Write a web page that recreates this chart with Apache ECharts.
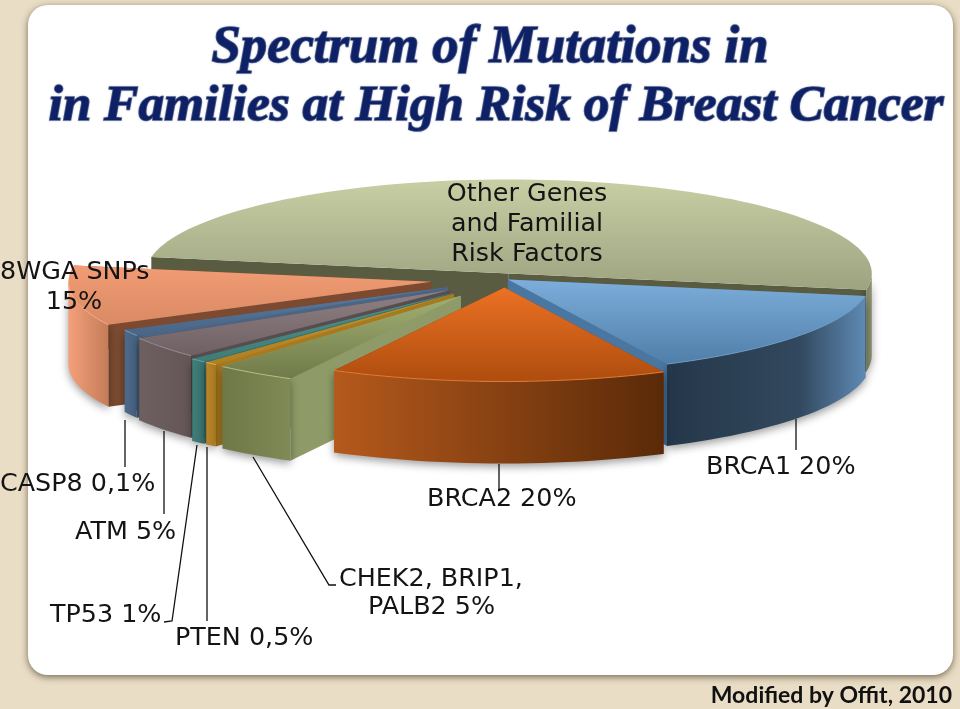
<!DOCTYPE html>
<html><head><meta charset="utf-8">
<style>html,body{margin:0;padding:0;background:#E9DDC6}#c{width:960px;height:709px}</style>
<script src="https://cdn.jsdelivr.net/npm/echarts@6/dist/echarts.min.js"></script>
</head><body><div id="c"></div>
<script>
// Slices in pie order (clockwise from the right edge of the big slice)
const sliceNames = ['Other Genes and Familial Risk Factors','BRCA1','BRCA2','CHEK2, BRIP1, PALB2','PTEN','TP53','ATM','CASP8','8WGA SNPs'];
// Share of the drawn pie (the printed percentages differ)
const sliceShares = [50,15,15,3.61,0.56,0.72,3.72,1.08,10.31];
const printedLabels = ['','20%','20%','5%','0,5%','1%','5%','0,1%','15%'];
const sliceExplode = [0.06,0.01,0.09,0.215,0.21,0.21,0.19,0.18,0.205];
const drawOrder = [0,8,7,6,5,4,3,1,2];

const palette = [
 {top:['#C8CFA4','#9DA380'],wall:['#7E8464','#8A9070'],face:'#5A5C41',rim:null},
 {top:['#7DAEDB','#4F7EA8'],wall:['#24364A','#2C4054','#32485E','#5E8AB4'],face:'#4A77A2',rim:'#6E9CC6'},
 {top:['#EC7124','#AE4D0E'],wall:['#B5591C','#5A2A08'],face:'#7A3A10',rim:'#E07A38'},
 {top:['#A2AF72','#6F7A49'],wall:['#6E7848','#7F8A56'],face:'#8E9B68',rim:'#B5C085'},
 {top:['#C9932E','#B07F22'],wall:['#B8862A','#A87820'],face:'#A87A20',rim:'#DDB050'},
 {top:['#4F918C','#3F7C78'],wall:['#3F7F7B','#3A6F6C'],face:'#3A726E',rim:'#62A5A0'},
 {top:['#8E8083','#6F6063'],wall:['#6E5F60','#645657'],face:'#574C4E',rim:'#9A8C8E'},
 {top:['#5C7A9C','#4A6585'],wall:['#4E6A8C','#45607E'],face:'#4A6585',rim:'#7A98B8'},
 {top:['#F29C74','#D98A64'],wall:['#F4A07A','#C47C58'],face:'#7B4A30',rim:'#F6B090'}
];

const C = {x:505,y:279,rx:363,ry:94,h:82};
const startAngle = 190;
const starts = [];
sliceShares.reduce((acc,s,i)=>{starts[i]=acc;return acc+s;},0);
const rows = drawOrder.map(i=>[starts[i],sliceShares[i],sliceExplode[i],i]);
const grad = (c,horizontal)=>({type:'linear',x:0,y:0,x2:horizontal?1:0,y2:horizontal?0:1,
  colorStops:c.map((col,i)=>({offset:i/(c.length-1),color:col}))});

function renderSlice(params,api){
  const a0 = startAngle + api.value(0)*3.6, a1 = a0 + api.value(1)*3.6;
  const mid = (a0+a1)/2*Math.PI/180, e = api.value(2), col = palette[api.value(3)];
  const ax = C.x + e*Math.cos(mid)*C.rx, ay = C.y + e*Math.sin(mid)*C.ry;
  const pt = d=>[ax+C.rx*Math.cos(d*Math.PI/180), ay+C.ry*Math.sin(d*Math.PI/180)];
  const arc = (p,q)=>{const n=Math.max(2,Math.ceil((q-p)/2)),o=[];for(let i=0;i<=n;i++)o.push(pt(p+(q-p)*i/n));return o;};
  const down = p=>[p[0],p[1]+C.h];
  const z = params.dataIndex*5+1;
  const kids = [];
  [a0,a1].forEach(d=>{
    const c=pt(d);
    kids.push({type:'polygon',z2:z,shape:{points:[[ax,ay],c,down(c),[ax,ay+C.h]]},style:{fill:col.face}});
  });
  [[0,180],[360,540]].forEach(r=>{
    const lo=Math.max(a0,r[0]),hi=Math.min(a1,r[1]);
    if(lo<hi){
      const top=arc(lo,hi);
      kids.push({type:'polygon',z2:z+1,shape:{points:top.concat(top.slice().reverse().map(down))},
        style:{fill:grad(col.wall,true),shadowBlur:9,shadowColor:'rgba(0,0,0,0.4)',shadowOffsetY:3}});
    }
  });
  const rim = arc(a0,a1);
  kids.push({type:'polygon',z2:z+2,shape:{points:[[ax,ay]].concat(rim)},style:{fill:grad(col.top,false)}});
  if(col.rim)[[0,180],[360,540]].forEach(r=>{
    const lo=Math.max(a0,r[0]),hi=Math.min(a1,r[1]);
    if(lo<hi) kids.push({type:'polyline',z2:z+3,shape:{points:arc(lo,hi)},style:{fill:null,stroke:col.rim,lineWidth:1}});
  });
  return {type:'group',children:kids};
}

const labelFont = {fontFamily:'"DejaVu Sans"',fontSize:25.4,fill:'#141414'};
const txt = (t,x,baseline,align)=>({type:'text',z:50,x:x,y:baseline-7,
  style:Object.assign({text:t,align:align||'left',verticalAlign:'middle'},labelFont)});
const seg = pts=>({type:'polyline',z:40,shape:{points:pts},style:{fill:null,stroke:'#111',lineWidth:1.3}});
const titleStyle = size=>({fontFamily:'"Liberation Serif"',fontStyle:'italic',fontWeight:'bold',fontSize:size,color:'#0E2066',
      textBorderColor:'#4C5880',textBorderWidth:1.6,textShadowColor:'rgba(90,110,170,0.3)',textShadowBlur:2});

const option = {
  backgroundColor:'#E9DDC6',
  animation:false,
  title:[
    {text:'Spectrum of Mutations in',left:485,top:17,textAlign:'center',textStyle:titleStyle(52.6)},
    {text:'in Families at High Risk of Breast Cancer',left:491,top:76,textAlign:'center',textStyle:titleStyle(51.4)}
  ],
  graphic:{elements:[
    {type:'rect',z:-10,shape:{x:28,y:5,width:925,height:670,r:20},
      style:{fill:'#fff',shadowBlur:7,shadowColor:'rgba(70,55,35,0.7)',shadowOffsetY:2}},
    txt('Other Genes',527,201,'center'),txt('and Familial',527,231,'center'),txt('Risk Factors',527,261,'center'),
    txt(sliceNames[8],0,279),txt(printedLabels[8],74,309,'center'),
    txt(sliceNames[7]+' '+printedLabels[7],0,491),
    txt(sliceNames[6]+' '+printedLabels[6],75,539),
    txt(sliceNames[5]+' '+printedLabels[5],50,622),
    txt(sliceNames[4]+' '+printedLabels[4],175,645),
    txt('CHEK2, BRIP1,',339,586),txt('PALB2 '+printedLabels[3],368,614),
    txt(sliceNames[2]+' '+printedLabels[2],427,506),
    txt(sliceNames[1]+' '+printedLabels[1],706,474),
    seg([[125,420],[125,467]]),seg([[164,431],[164,514]]),
    seg([[197,445],[172,621],[164,622]]),seg([[207,447],[207,621]]),
    seg([[253,457],[329,585],[336,585]]),seg([[499,464],[499,491]]),seg([[796,419],[796,450]]),
    {type:'text',z:50,x:952,y:696,style:{text:'Modified by Offit, 2010',align:'right',verticalAlign:'middle',
      fontFamily:'Lato',fontWeight:'bold',fontSize:23,fill:'#111'}}
  ]},
  series:[{type:'custom',coordinateSystem:'none',clip:false,renderItem:renderSlice,data:rows,silent:true}]
};
echarts.init(document.getElementById('c'),null,{renderer:'canvas'}).setOption(option);
</script></body></html>
